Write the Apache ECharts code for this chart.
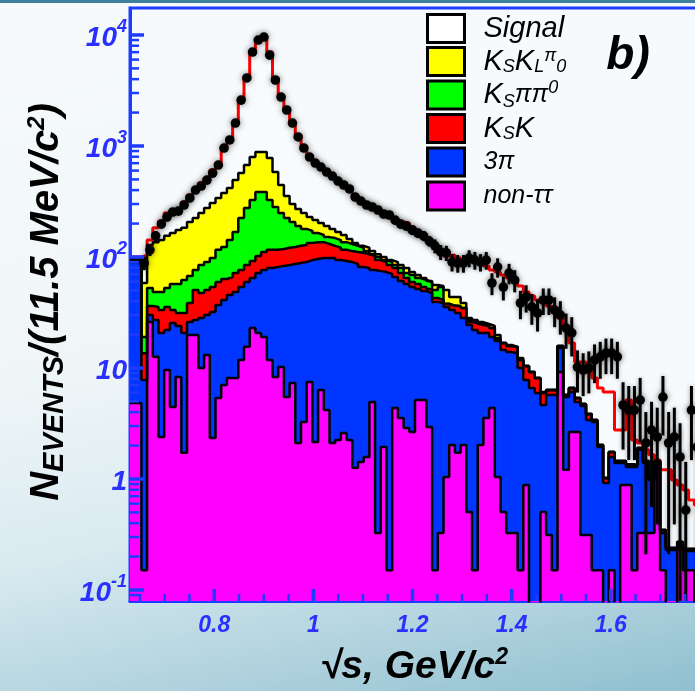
<!DOCTYPE html>
<html><head><meta charset="utf-8">
<script src="https://cdn.jsdelivr.net/npm/echarts@6/dist/echarts.min.js"></script>
<style>
html,body{margin:0;padding:0;width:695px;height:691px;overflow:hidden;}
body{background:linear-gradient(168deg,#f6fafb 0%,#f0f6f8 45%,#d9eaf0 68%,#b3d4df 85%,#8fbfcf 100%);}
#topbar{position:absolute;left:0;top:0;width:695px;height:3px;background:#3e7f9c;}
#chart{position:absolute;left:0;top:0;width:720px;height:691px;}
</style></head><body>
<div id="topbar"></div>
<div id="chart"></div>
<script>
// ---- binning (11.5 MeV bins) ----
const BIN_LOW = 0.63, BIN_WIDTH = 0.0115, N_BINS = 100;
const X_MIN = 0.63, X_MAX = 1.78, Y_MIN = 0.0796, Y_MAX = 17500;

// ---- MC stack, read as cumulative tops of each layer (events / 11.5 MeV) ----
const nonTauTau = [4.83,4.83,0.151,25.9,12.6,2.39,9.58,4.45,8.29,1.72,
 19.8,19.8,10,13.1,2.34,5.36,7.02,8.12,8.12,11.8,
 15.5,22.9,20.7,19,11.8,8.29,10.2,5.47,7.31,2.11,
 3.26,7.46,2.15,6.33,4.18,2.11,2.25,2.59,2.25,1.26,
 1.42,1.58,4.93,0.326,1.94,0.151,4.36,3.55,2.88,2.65,
 5.14,5.14,2.94,0.151,0.326,1.04,2.02,1.72,2.02,0.504,
 0.151,2.02,3.55,4.36,1.04,0.504,0.326,0.326,0.151,0.882,
 0.01,0.01,0.504,0.313,0.151,9.19,1.21,2.65,2.65,0.313,
 0.313,0.151,0.151,0.01,0.151,0.01,0.882,0.882,0.151,0.326,
 0.326,0.326,1.16,0.151,0.01,0.01,0.239,0.151,0.151,0.01];
const cum3pi = [90,90,7.78,30,27,20.7,22,25.4,23.9,20.7,
 25.9,27,28.2,30,31.9,37,41,45.4,48.3,53.6,
 59.5,64.6,71.7,76.2,79.5,81.2,82.9,84.6,86.4,88.2,
 90,93.8,95.8,97.8,97.8,97.8,93.8,91.9,90,86.4,
 81.2,79.5,76.2,74.6,73.1,70.2,65.9,60.7,57,53.6,
 51.4,49.3,47.3,39.3,38.5,35.5,33.3,31.3,28.2,24.4,
 22,20.7,20.7,19,17.5,14.5,13.9,13.6,10,7.78,
 6.59,5.95,4.64,5.7,5.7,15.1,5.47,6.07,4.93,4.54,
 3.4,3.26,1.94,0.919,1.58,1.39,1.39,1.28,1.28,1.83,
 1.39,0.978,1.39,0.326,0.229,0.229,0.26,0.225,0.225,0.225];
const cumKSK = [93.8,93.8,13.6,36.2,35.5,33.3,35.5,33.3,31.3,31.3,
 38.5,50.4,47.3,50.4,53.6,59.5,63.3,65.9,71.7,76.2,
 84.6,91.9,102,111,116,116,118,121,123,126,
 128,134,136,136,131,126,121,116,113,111,
 109,106,102,93.8,90,84.6,79.5,71.7,64.6,59.5,
 57,53.6,51.4,42.7,41,37.7,36.2,36.2,34.7,25.9,
 25.4,24.4,23.9,22.9,17.9,16.8,15.8,15.5,11.8,10.4,
 9.19,8.12,5.95,6.33,6.33,15.8,5.7,6.59,5.36,4.73,
 3.85,3.4,2.02,1.02,1.75,1.45,1.45,1.36,1.34,1.9,
 1.45,1.02,1.45,0.347,0.239,0.239,0.27,0.234,0.234,0.234];
const cumKSpipi0 = [95.8,95.8,19,52.5,48.3,48.3,52.5,57,57,62,
 67.3,76.2,84.6,90,97.8,116,123,142,168,225,
 276,326,385,385,326,282,249,225,207,190,
 179,172,164.5,158,151,148,142,136,131,126,
 121,113,106,100,93.8,90,84.6,79.5,71.7,68.7,
 64.6,62,59.5,50.4,53.6,38,36.5,36.2,34.7,27,
 26.5,24.9,23.9,22.9,18.6,16.8,15.8,15.5,11.8,10.4,
 9.19,8.12,5.95,6.33,6.33,15.8,5.7,6.59,5.36,4.73,
 3.85,3.4,2.02,1.02,1.75,1.45,1.45,1.36,1.34,1.9,
 1.45,1.02,1.45,0.347,0.239,0.239,0.27,0.234,0.234,0.234];
const cumKSKLpi0 = [97.8,97.8,58.3,128,136,142,155,164.5,175,183,
 207,225,249,276,306,340,377,418,493,570,
 673,795,882,882,778,583,445,355,300,270,
 249,229,215,202,190,179,168,158,145,134,
 126,121,113,106,100,93.8,90,84.6,79.5,73.1,
 68.7,64.6,60.7,55.9,54.7,50.4,43.6,43.6,38.5,28.2,
 27,25.9,24.9,23.9,19.8,16.8,16.1,15.5,12.3,10.4,
 9.19,8.12,6.07,6.33,6.33,15.8,5.7,6.59,5.36,4.73,
 3.85,3.4,2.02,1.02,1.75,1.45,1.45,1.36,1.34,1.9,
 1.45,1.02,1.45,0.347,0.239,0.239,0.27,0.234,0.234,0.234];
const totalMC = [100,100,104,142,183,211,249,265,276,313,
 362,418,464,514,607,702,978,1133,1610,2590,
 4100,7020,9000,9380,7020,4100,2880,2110,1645,1256,
 1000,829,731,659,595,547,483,454,427,355,
 326,300,288,270,254,239,225,207,202,186,
 168,151,142,128,111,102,104,97.8,93.8,90,
 88.2,90,82.9,76.2,73.1,68.7,64.6,62,54.7,48.3,
 44.5,41,38.5,36.2,31.9,28.2,22,16.8,11.3,11.3,
 9.19,8.12,6.59,6.07,6.07,2.76,2.76,5.14,2.25,2.11,
 1.83,1.65,1.48,1.21,1.21,0.978,0.882,0.795,0.646,0.583];

// ---- data points with error bars ----
const dataVals = [null,null,88.2,116,155,198,229,254,259,294,
 340,401,436,493,570,673,958,1133,1610,2590,
 4100,7020,9000,9580,6590,3930,2760,2110,1610,1206,
 958,795,702,646,583,536,483,445,410,347,
 319,294,282,265,244,239,215,198,190,175,
 164.5,155,139,126,111,109,90,88.2,88.2,97.8,
 93.8,90,93.8,58.3,81.2,53.6,71.7,62,38.5,43.6,
 35.5,31.3,41,41,33.3,30,22.9,20.7,10.2,9.58,
 10,11.8,12.6,13.6,13.6,12.6,4.64,4.18,4.18,5.14,
 2.11,2.76,2.39,5.47,2.11,2.39,1.58,0.525,4.18,1.94];
const dataErr = [null,null,12,14,16,18,19,20,20,21,
 23,25,26,28,30,32,38,42,50,62,
 78,100,115,118,98,76,64,56,50,43,
 38,35,33,32,30,29,28,26,25,23,
 22,21,21,20,20,19,18,18,17,17,
 16,16,15,18,17,17,16,16,16,17,
 17,16,17,13,16,13,15,14,11,12,
 11,10,11,11,10,10,8,8,4.2,4,
 4.1,4.5,4.6,4.8,4.8,4.6,2.8,2.7,2.7,3,
 1.9,2.2,2,3,1.9,2,1.6,0.9,2.7,1.8];

// ---- axis ticks ----
const yMajorTicks = [0.1, 1, 10, 100, 1000, 10000];
const yMinorTicks = [0.09,
 0.2,0.3,0.4,0.5,0.6,0.7,0.8,0.9,
 2,3,4,5,6,7,8,9,
 20,30,40,50,60,70,80,90,
 200,300,400,500,600,700,800,900,
 2000,3000,4000,5000,6000,7000,8000,9000];
const xMajorTicks = [0.8, 1.0, 1.2, 1.4, 1.6];
const xMinorTicks = [0.65,0.7,0.75,0.85,0.9,0.95,1.05,1.1,1.15,1.25,1.3,1.35,1.45,1.5,1.55,1.65,1.7,1.75];
const yTickLabels = {'4':'{b|10}{s|4}','3':'{b|10}{s|3}','2':'{b|10}{s|2}','1':'{b|10}','0':'{b|1}','-1':'{b|10}{s|-1}'};

// ---- legend ----
const legendOrder = ['Signal','KSKLpi0','KSpipi0','KSK','3pi','nontautau'];
const legendText = {
  'Signal':'{g| }{a|Signal}',
  'KSKLpi0':'{g| }{a|K}{sb|S}{a|K}{sb|L}{sp|π}{sb|0}',
  'KSpipi0':'{g| }{a|K}{sb|S}{m|ππ}{sp|0}',
  'KSK':'{g| }{a|K}{sb|S}{a|K}',
  '3pi':'{g| }{m|3π}',
  'nontautau':'{g| }{m|non-ττ}'
};

// ---------------------------------------------------------------
const FONT = '"Liberation Sans", Arial, Helvetica, sans-serif';
const AXIS_BLUE = '#1e3cff';
const LABEL_BLUE = '#2a30ff';
const FILL = {Signal:'#f8fbfd', KSKLpi0:'#ffff00', KSpipi0:'#00ff00', KSK:'#ff0000', '3pi':'#0036ff', nontautau:'#ff00ff'};

const edges = [];
for (let k = 0; k <= N_BINS; k++) edges.push(+(BIN_LOW + k * BIN_WIDTH).toFixed(6));
const centers = edges.slice(0, N_BINS).map(e => e + BIN_WIDTH / 2);

function stepData(vals) {
  const d = vals.map((v, k) => [edges[k], v]);
  d.push([edges[N_BINS], vals[N_BINS - 1]]);
  return d;
}
function layer(name, vals, lineColor, lineWidth) {
  return {
    name: name, type: 'line', step: 'end', data: stepData(vals),
    symbol: 'none', showSymbol: false, silent: true, clip: true, z: 2,
    color: FILL[name],
    lineStyle: {color: lineColor, width: lineWidth},
    areaStyle: {color: FILL[name], opacity: 1, origin: 'start'},
    emphasis: {disabled: true}
  };
}

const pointData = [];
dataVals.forEach((v, k) => { if (v != null) pointData.push([centers[k], v, dataErr[k]]); });

const tickData = [];
yMajorTicks.forEach(v => tickData.push([X_MIN, v, 0, 1]));
yMinorTicks.forEach(v => tickData.push([X_MIN, v, 0, 0]));
xMajorTicks.forEach(v => tickData.push([v, Y_MIN, 1, 1]));
xMinorTicks.forEach(v => tickData.push([v, Y_MIN, 1, 0]));

const legRich = {
  g: {width: 14},
  a: {fontSize: 29, fontStyle: 'italic', fontFamily: FONT, color: '#000', lineHeight: 29},
  m: {fontSize: 25, fontStyle: 'italic', fontFamily: FONT, color: '#000', lineHeight: 32},
  sb: {fontSize: 18, fontStyle: 'italic', fontFamily: FONT, color: '#000', lineHeight: 18, verticalAlign: 'bottom'},
  sp: {fontSize: 18, fontStyle: 'italic', fontFamily: FONT, color: '#000', lineHeight: 18, verticalAlign: 'top'}
};

const chart = echarts.init(document.getElementById('chart'), null, {renderer: 'canvas', width: 720, height: 691});
chart.setOption({
  animation: false,
  grid: {left: 130, top: 8, right: 20, bottom: 90, show: true, backgroundColor: '#f6fafc', borderColor: AXIS_BLUE, borderWidth: 3, containLabel: false},
  xAxis: {
    type: 'value', min: X_MIN, max: X_MAX, splitNumber: 6,
    axisLine: {show: true, onZero: false, lineStyle: {color: AXIS_BLUE, width: 3}},
    axisTick: {show: false}, splitLine: {show: false},
    axisLabel: {
      showMinLabel: false, showMaxLabel: false, margin: 13,
      color: LABEL_BLUE, fontSize: 23, fontWeight: 'bold', fontStyle: 'italic', fontFamily: FONT,
      formatter: v => (Math.abs(v * 5 - Math.round(v * 5)) < 1e-6 && v > X_MIN + 0.01 && v < X_MAX - 0.01) ? String(+v.toFixed(1)) : ''
    }
  },
  yAxis: {
    type: 'log', logBase: 10, min: Y_MIN, max: Y_MAX,
    axisLine: {show: true, onZero: false, lineStyle: {color: AXIS_BLUE, width: 3}},
    axisTick: {show: false}, splitLine: {show: false}, minorTick: {show: false},
    axisLabel: {
      margin: 3,
      formatter: v => {
        const l = Math.log10(v); const e = Math.round(l);
        if (Math.abs(l - e) > 0.01) return '';
        return yTickLabels[String(e)] || '';
      },
      rich: {
        b: {fontSize: 28, fontWeight: 'bold', fontStyle: 'italic', fontFamily: FONT, color: LABEL_BLUE, lineHeight: 34, verticalAlign: 'bottom'},
        s: {fontSize: 18, fontWeight: 'bold', fontStyle: 'italic', fontFamily: FONT, color: LABEL_BLUE, lineHeight: 18, verticalAlign: 'top'}
      }
    }
  },
  legend: {
    left: 426, top: 13, orient: 'vertical', padding: 0,
    itemWidth: 37, itemHeight: 28, itemGap: 2, icon: 'rect', selectedMode: false,
    data: legendOrder.map(n => ({name: n, icon: 'rect', itemStyle: {color: n === 'Signal' ? '#ffffff' : FILL[n], borderColor: '#000', borderWidth: 3}})),
    formatter: n => legendText[n],
    textStyle: {color: '#000', fontFamily: FONT, fontStyle: 'italic', fontSize: 29, lineHeight: 29, rich: legRich}
  },
  series: [
    layer('Signal', totalMC, '#ff0000', 3),
    layer('KSKLpi0', cumKSKLpi0, '#000', 2.5),
    layer('KSpipi0', cumKSpipi0, '#000', 2.5),
    layer('KSK', cumKSK, '#000', 2.5),
    layer('3pi', cum3pi, '#000', 2.5),
    layer('nontautau', nonTauTau, '#000', 2.5),
    {
      name: 'data', type: 'custom', data: pointData, encode: {x: 0, y: 1}, clip: true, z: 8, silent: true,
      renderItem: function (params, api) {
        const x = api.value(0), v = api.value(1), e = api.value(2);
        const p = api.coord([x, v]);
        const hi = api.coord([x, v + e]);
        const lo = api.coord([x, Math.max(v - e, Y_MIN * 0.5)]);
        return {type: 'group', children: [
          {type: 'line', shape: {x1: p[0], y1: hi[1], x2: p[0], y2: lo[1]}, style: {stroke: '#000', lineWidth: 3, shadowBlur: 4, shadowColor: 'rgba(0,0,0,0.35)'}},
          {type: 'circle', shape: {cx: p[0], cy: p[1], r: 4.8}, style: {fill: '#000', shadowBlur: 6, shadowColor: 'rgba(0,0,0,0.55)'}}
        ]};
      }
    },
    {
      name: 'ticks', type: 'custom', data: tickData, encode: {x: 0, y: 1}, z: 10, silent: true,
      renderItem: function (params, api) {
        const p = api.coord([api.value(0), api.value(1)]);
        const isX = api.value(2) === 1, major = api.value(3) === 1;
        const len = isX ? (major ? 12 : 7) : (major ? 14 : 9);
        return {type: 'line',
          shape: isX ? {x1: p[0], y1: p[1], x2: p[0], y2: p[1] - len} : {x1: p[0], y1: p[1], x2: p[0] + len, y2: p[1]},
          style: {stroke: AXIS_BLUE, lineWidth: major ? 3.5 : 2.5}};
      }
    }
  ],
  graphic: [
    {type: 'text', x: 47, y: 302, rotation: Math.PI / 2, z: 20,
      style: {text: '{n|N}{sb|EVENTS}{n|/(11.5 MeV/c}{sp|2}{n|)}', align: 'center', verticalAlign: 'middle',
        rich: {
          n: {fontSize: 40, fontWeight: 'bold', fontStyle: 'italic', fontFamily: FONT, fill: '#000', lineHeight: 44},
          sb: {fontSize: 29, fontWeight: 'bold', fontStyle: 'italic', fontFamily: FONT, fill: '#000', lineHeight: 29, verticalAlign: 'bottom'},
          sp: {fontSize: 24, fontWeight: 'bold', fontStyle: 'italic', fontFamily: FONT, fill: '#000', lineHeight: 24, verticalAlign: 'top'}
        }}},
    {type: 'text', x: 414, y: 667, z: 20,
      style: {text: '{n|√s, GeV/c}{sp|2}', align: 'center', verticalAlign: 'middle',
        rich: {
          n: {fontSize: 39, fontWeight: 'bold', fontStyle: 'italic', fontFamily: FONT, fill: '#000', lineHeight: 42},
          sp: {fontSize: 23, fontWeight: 'bold', fontStyle: 'italic', fontFamily: FONT, fill: '#000', lineHeight: 23, verticalAlign: 'top'}
        }}},
    {type: 'text', x: 628, y: 56, z: 20,
      style: {text: 'b)', font: 'italic bold 46px ' + FONT, fill: '#000', align: 'center', verticalAlign: 'middle'}}
  ]
});
</script>
</body></html>
